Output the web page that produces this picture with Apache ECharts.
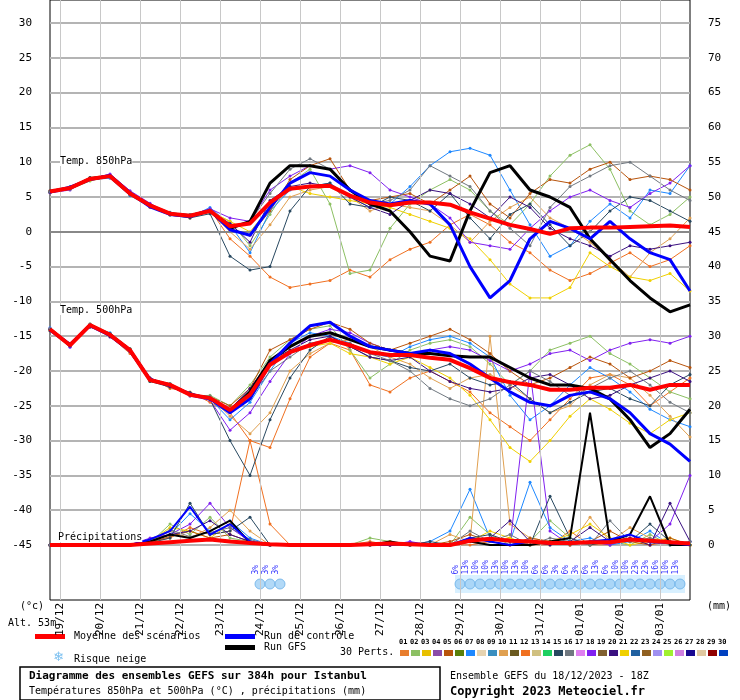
<!DOCTYPE html>
<html>
<head>
<meta charset="utf-8">
<script src="https://cdn.jsdelivr.net/npm/echarts@6/dist/echarts.min.js"></script>
<style>html,body{margin:0;padding:0;background:#fff}#chart{width:740px;height:700px}</style>
</head>
<body>
<div id="chart"></div>
<script>
// hours since 18/12 00Z, 12h steps
var hours = [18,30,42,54,66,78,90,102,114,126,138,150,162,174,186,198,210,222,234,246,258,270,282,294,306,318,330,342,354,366,378,390,402];
var dayHours = [24,48,72,96,120,144,168,192,216,240,264,288,312,336,360,384];
var dayLabels = ['19/12','20/12','21/12','22/12','23/12','24/12','25/12','26/12','27/12','28/12','29/12','30/12','31/12','01/01','02/01','03/01'];

var mean850 = [5.8,6.3,7.6,8.0,5.5,3.8,2.6,2.3,3.0,0.8,1.2, 4.2,6.2,6.5,6.6,5.2,4.2,3.8,4.2,4.2,3.9,2.8, 1.9,1.0,0.4,-0.3,0.5,0.6,0.6,0.7,0.8,0.9,0.7];
var ctrl850 = [5.7,6.4,7.5,8.1,5.6,3.6,2.5,2.2,3.1,0.3,-0.5, 3.5,7.0,8.5,8.0,6.0,4.5,4.0,4.5,4.0,1.0,-5.0, -9.5,-7.0,-1.0,1.5,0.5,-1.0,1.5,-1.0,-3.0,-4.0,-8.5];
var gfs850 = [5.8,6.3,7.6,8.0,5.5,3.8,2.6,2.3,3.0,0.5,1.5, 7.0,9.5,9.5,9.0,6.0,4.0,3.0,0.0,-3.5,-4.2,3.0, 8.5,9.5,6.0,5.0,3.5,-1.0,-4.0,-7.0,-9.5,-11.5,-10.5];

var mean500 = [-14,-16.3,-13.4,-14.8,-17,-21.3,-22,-23.4,-23.9,-25.6,-23.4, -19.1,-17.3,-16.3,-15.5,-16.3,-17.3,-17.7,-17.7,-18.1,-18.4,-19.6, -21,-21.6,-22,-22.7,-22.7,-22.4,-22.4,-22,-22.7,-22,-22];
var ctrl500 = [-14.1,-16.2,-13.5,-14.9,-17.1,-21.2,-22.1,-23.3,-24.0,-26.0,-24.0, -19.0,-16.0,-13.5,-13.0,-15.0,-16.5,-17.0,-17.5,-17.0,-17.5,-19.0, -21.0,-23.0,-24.5,-25.0,-23.5,-23.0,-24.0,-26.0,-29.0,-30.5,-33.0];
var gfs500 = [-14.0,-16.3,-13.4,-14.8,-17.0,-21.3,-22.0,-23.4,-23.9,-25.8,-23.0, -18.5,-16.5,-15.0,-14.5,-15.5,-16.5,-17.0,-17.5,-17.5,-17.8,-18.0, -18.0,-19.5,-21.0,-22.0,-22.0,-22.5,-24.0,-27.0,-31.0,-29.0,-25.5];

var meanPrcp = [0,0,0,0,0,0.2,0.4,0.6,0.8,0.5,0.3, 0.1,0,0,0,0,0.1,0.2,0.1,0,0,0.6, 0.9,0.6,0.5,0.3,0.3,0.4,0.4,0.8,0.6,0.4,0.2];
var ctrlPrcp = [0,0,0,0,0,0.8,2.0,5.5,1.5,3.0,0.5, 0,0,0,0,0,0,0,0.3,0,0,1.0, 0.5,0,0.5,0.3,0.2,0.5,0.8,1.5,0.4,0.3,0];
var gfsPrcp = [0,0,0,0,0,0.5,1.5,1.0,2.0,3.5,0.3, 0,0,0,0,0,0,0.5,0,0,0,0.5, 0,0,0,0.5,1.0,19.0,0.5,1.5,7.0,0,0];

// perturbations shown: number, 850hPa, 500hPa, precipitation
var pertIds = ['12','02','07','10','21','18','05','15','20','16'];
var pert850 = [
  [5.6,6.4,7.8,8.2,5.8,3.5,2.8,2.0,3.2,-1.0,-3.5, -6.5,-8.0,-7.5,-7.0,-5.5,-6.5,-4.0,-2.5,-1.5,1.0,2.5, 1.0,-1.5,-3.0,-5.5,-7.0,-6.0,-4.5,-3.0,-5.0,-4.0,-2.0],
  [5.9,6.1,7.3,8.0,5.6,4.0,2.4,2.5,2.8,1.5,-2.0, 2.5,7.0,9.0,4.0,-6.0,-5.5,0.5,4.0,6.0,7.5,6.0, 3.0,1.0,4.0,8.0,11.0,12.5,9.0,3.0,1.0,2.5,5.0],
  [5.7,6.5,7.5,7.7,5.2,3.6,2.8,2.1,3.5,1.0,-3.0, 3.0,6.0,6.5,7.0,5.0,3.5,4.0,6.5,9.5,11.5,12.0, 11.0,6.0,1.0,-3.5,-2.0,1.5,4.0,2.0,6.0,5.5,9.5],
  [5.8,6.2,7.7,8.1,5.4,3.9,2.5,2.4,2.9,0.0,-2.5, 1.0,5.0,6.0,6.5,5.0,3.0,4.0,3.5,3.0,1.0,-1.5, 1.5,3.5,5.0,2.0,0.5,-1.5,-4.0,-6.5,-3.0,-1.0,2.0],
  [5.9,6.3,7.4,7.9,5.6,3.7,2.7,2.2,3.0,1.5,0.0, 3.5,6.5,5.5,5.0,4.5,4.0,3.5,2.5,1.5,0.5,-1.0, -4.0,-7.5,-9.5,-9.5,-8.0,-3.0,-5.0,-6.5,-7.0,-6.0,-8.5],
  [5.6,6.0,7.6,8.3,5.9,4.1,2.5,2.4,3.3,2.0,1.5, 6.0,8.0,9.5,9.0,9.5,8.5,6.0,5.0,4.0,2.0,-1.5, -2.0,-2.5,0.5,3.0,5.0,6.0,4.5,3.5,5.5,7.0,9.5],
  [5.8,6.4,7.5,7.9,5.5,3.6,2.6,2.3,3.1,0.5,-0.5, 3.0,7.5,9.5,10.5,6.0,4.5,5.0,5.5,4.0,6.0,8.0, 4.0,2.0,5.5,7.5,7.0,9.0,10.0,7.5,8.0,7.5,6.0],
  [5.7,6.2,7.8,8.0,5.3,3.8,2.4,2.0,2.6,-3.5,-5.5, -5.0,3.0,6.5,7.0,4.0,3.5,5.0,4.5,3.0,5.5,2.0, -1.0,2.5,4.0,1.0,-2.0,0.0,3.0,5.0,4.5,3.0,1.5],
  [5.9,6.3,7.5,8.0,5.6,3.8,2.7,2.4,2.9,1.2,-1.5, 4.5,6.5,7.0,6.5,5.0,3.5,2.5,4.5,6.0,5.5,4.0, 2.0,5.0,3.5,0.5,-1.0,-2.0,-3.5,-2.0,-2.5,-2.0,-1.5],
  [5.8,6.1,7.6,8.1,5.4,3.7,2.6,2.5,3.0,0.3,1.5, 5.5,9.0,10.5,9.0,6.0,4.0,4.5,6.0,9.5,8.0,6.5, 3.0,0.5,-2.0,3.5,6.5,8.0,9.5,10.0,8.0,6.0,4.5]
];
var pert500 = [
  [-14.2,-16.0,-13.5,-15.0,-17.5,-21.0,-22.5,-23.0,-24.5,-26.0,-30.0, -31.0,-24.0,-18.0,-16.0,-17.0,-22.0,-23.0,-21.0,-20.0,-21.5,-23.0, -26.0,-28.0,-30.0,-27.0,-24.0,-21.0,-20.5,-22.0,-25.0,-23.0,-21.0],
  [-14.0,-16.5,-13.2,-14.6,-16.8,-21.5,-21.8,-23.6,-23.5,-25.0,-22.0, -18.0,-15.5,-14.0,-13.5,-17.0,-21.0,-19.0,-17.0,-16.0,-15.5,-16.5, -19.0,-22.0,-20.0,-17.0,-16.0,-15.0,-17.5,-19.0,-21.0,-23.0,-24.0],
  [-13.8,-16.4,-13.6,-14.5,-17.2,-21.0,-22.2,-23.2,-24.0,-27.0,-24.5, -20.0,-16.0,-14.5,-15.0,-16.0,-17.5,-18.0,-16.5,-15.5,-15.0,-16.0, -18.0,-23.5,-27.0,-25.0,-22.0,-19.5,-21.0,-23.0,-25.5,-27.0,-28.0],
  [-14.1,-16.2,-13.3,-15.0,-17.0,-21.4,-22.0,-23.5,-23.8,-26.5,-29.0, -26.0,-20.0,-17.5,-16.0,-15.5,-16.5,-18.0,-19.0,-21.0,-22.5,-21.0, -20.5,-22.0,-24.0,-26.0,-25.0,-22.0,-20.5,-21.0,-23.5,-26.5,-29.5],
  [-14.0,-16.1,-13.4,-14.8,-16.9,-21.2,-22.1,-23.3,-24.0,-25.5,-23.0, -19.0,-17.0,-16.5,-16.0,-17.5,-18.0,-19.0,-18.0,-19.5,-21.0,-23.5, -27.0,-31.0,-33.0,-30.0,-26.5,-24.0,-25.5,-27.5,-29.0,-27.0,-26.0],
  [-13.9,-16.6,-13.3,-14.7,-17.1,-21.1,-21.9,-23.6,-24.2,-28.5,-26.0, -21.5,-17.5,-15.0,-14.0,-14.5,-16.0,-17.0,-17.5,-17.0,-16.5,-17.0, -18.5,-20.0,-19.0,-17.5,-17.0,-18.5,-17.0,-16.0,-15.5,-16.0,-15.0],
  [-14.0,-16.3,-13.5,-14.9,-17.0,-21.3,-22.0,-23.4,-23.7,-25.0,-22.5, -17.0,-15.5,-14.0,-13.0,-14.0,-16.0,-17.0,-16.0,-15.0,-14.0,-15.5, -17.5,-20.0,-22.0,-21.0,-19.5,-18.0,-19.0,-21.0,-20.0,-18.5,-19.5],
  [-14.2,-16.2,-13.7,-14.6,-16.8,-21.5,-22.3,-23.1,-24.1,-30.0,-35.0, -27.0,-21.0,-17.0,-15.0,-16.5,-18.0,-18.5,-19.5,-20.0,-19.0,-21.0, -22.0,-21.5,-24.0,-26.0,-24.5,-23.0,-22.5,-24.0,-25.0,-22.0,-20.5],
  [-14.0,-16.4,-13.4,-15.1,-17.2,-21.0,-22.2,-23.3,-23.9,-25.5,-22.5, -18.5,-17.0,-15.5,-15.0,-16.5,-18.0,-18.5,-18.0,-20.0,-21.5,-22.5, -23.0,-22.5,-21.0,-20.5,-22.0,-24.0,-23.5,-22.0,-21.0,-20.0,-21.5],
  [-13.9,-16.3,-13.3,-14.7,-16.9,-21.4,-21.8,-23.5,-23.6,-26.0,-24.0, -20.0,-18.0,-16.0,-15.5,-16.0,-17.5,-18.5,-20.0,-22.5,-24.0,-25.0, -24.0,-22.0,-20.0,-21.5,-23.5,-22.5,-21.0,-20.0,-22.0,-24.5,-26.0]
];
var pertPrcp = [
  [0,0,0,0,0,0.5,1.0,2.5,1.5,2.0,15.0, 3.0,0,0,0,0,0.5,0,0,0,0,0, 0.5,1.0,0,0,2.0,0,0,1.0,0,0.5,0],
  [0,0,0,0,0,0.3,3.0,1.5,4.0,1.0,0.5, 0,0,0,0,0,1.0,0.5,0,0,0,4.0, 1.5,0,0.5,3.5,1.0,0,0.5,0,1.5,0,0],
  [0,0,0,0,0,0.8,1.5,4.5,2.0,3.5,1.0, 0,0,0,0,0,0,0.5,0,0.5,2.0,8.0, 1.0,0.5,9.0,2.5,0.5,1.0,0,0.5,2.0,0,0.5],
  [0,0,0,0,0,0.5,2.0,1.0,2.5,5.0,2.0, 0,0,0,0,0,0,0,0,0,1.5,0.5, 30.0,3.0,1.0,0.5,0,4.0,0.5,2.5,1.0,0.5,0],
  [0,0,0,0,0,0.5,2.5,2.0,1.0,3.0,0.5, 0,0,0,0,0,0,0.5,0,0,0,0.5, 2.0,1.0,0,0.5,1.5,3.0,1.0,0,0.5,1.0,0],
  [0,0,0,0,0,1.0,1.5,3.0,6.0,2.5,0.5, 0,0,0,0,0,0,0,0.5,0,0,1.0, 0.5,0,25.0,2.0,0,0.5,0,1.0,0.5,3.0,10.0],
  [0,0,0,0,0,0.4,1.2,2.0,1.0,1.5,0.5, 0,0,0,0,0,0,0,0,0,0.5,1.5, 0.5,0,1.0,0.5,0,0.5,2.0,0.5,0,1.0,0],
  [0,0,0,0,0,0.3,1.0,6.0,1.5,2.0,4.0, 0,0,0,0,0,0,0,0,0.5,0,1.0, 1.5,0.5,0,7.0,1.0,0,0.5,0.5,3.0,0.5,0],
  [0,0,0,0,0,0.5,1.5,2.0,3.5,1.5,0.5, 0,0,0,0,0,0.3,0,0,0,0,0.5, 1.0,3.5,0.5,0,0.5,2.5,0.5,1.0,0,6.0,0.5],
  [0,0,0,0,0,0.6,2.2,1.2,1.8,2.5,0.8, 0,0,0,0,0,0,0.3,0,0,0,2.0, 0.5,1.5,0,1.0,0.5,0,3.5,0.5,1.0,0,0.5]
];

// snow risk (hour, %)
var snowHours = [144,150,156, 264,270,276,282,288,294,300,306,312,318,324,330,336,342,348,354,360,366,372,378,384,390,396];
var snowPct = [3,3,3, 6,13,10,10,13,10,13,10,6,6,3,6,3,6,13,6,10,10,23,23,16,10,13];

var pertNums = ['01','02','03','04','05','06','07','08','09','10','11','12','13','14','15','16','17','18','19','20','21','22','23','24','25','26','27','28','29','30'];
var pertColors = ['#e87d2d','#8cc063','#e8c000','#8b4ca8','#b8540c','#5a7f0a','#1e88ff','#e6d3b0','#3a8fc0','#e0a050','#6b5a20','#f07020','#d0c080','#1ed060','#284860','#707880','#e080f0','#8020f0','#806030','#3a1080','#f0d000','#2060a0','#906020','#a090f0','#a0f030','#d080e0','#180890','#e0c8a0','#900000','#0040c0'];

var FONT = 'DejaVu Sans Mono';
var chart = echarts.init(document.getElementById('chart'));

function pair(arr) { return arr.map(function (v, i) { return [hours[i], v]; }); }
function colorOf(id) { return pertColors[parseInt(id, 10) - 1]; }

var series = [];
// frame grid: vertical day lines
series.push({
  type: 'line', xAxisIndex: 1, yAxisIndex: 2, data: [], silent: true,
  markLine: {
    symbol: 'none', silent: true, label: { show: false },
    lineStyle: { color: '#c8c8c8', type: 'solid', width: 1 },
    data: dayHours.map(function (h) { return { xAxis: h }; })
  }
});
// snow risk
series.push({
  type: 'scatter', xAxisIndex: 1, yAxisIndex: 2, symbol: 'circle', symbolSize: 10,
  itemStyle: { color: '#9fd0f5', borderColor: '#6ab0e8', borderWidth: 1 },
  data: snowHours.map(function (h, i) { return [h, 16, snowPct[i]]; }),
  label: {
    show: true, position: 'top', rotate: 90, distance: 4, align: 'left',
    fontFamily: FONT, fontSize: 8, color: '#0000ff',
    formatter: function (p) { return p.value[2] + '%'; }
  },
  markArea: {
    silent: true, itemStyle: { color: '#d8f0ff' },
    data: [[{ xAxis: 261, yAxis: 7 }, { xAxis: 399, yAxis: 25 }]]
  },
  z: 3
});

pertIds.forEach(function (id, k) {
  var c = colorOf(id);
  [pert850[k], pert500[k]].forEach(function (arr) {
    series.push({ type: 'line', data: pair(arr), symbol: 'circle', symbolSize: 3,
      lineStyle: { width: 1, color: c }, itemStyle: { color: c }, z: 4, silent: true });
  });
  series.push({ type: 'line', yAxisIndex: 1, data: pair(pertPrcp[k]), symbol: 'circle', symbolSize: 3,
    lineStyle: { width: 1, color: c }, itemStyle: { color: c }, z: 4, silent: true });
});

function main(arr, color, w, axis, z) {
  return { type: 'line', yAxisIndex: axis, data: pair(arr), showSymbol: false,
    lineStyle: { width: w, color: color }, itemStyle: { color: color }, z: z, silent: true };
}
series.push(main(gfs850, '#000', 3, 0, 6), main(gfs500, '#000', 3, 0, 6), main(gfsPrcp, '#000', 2, 1, 6));
series.push(main(ctrl850, '#0000ff', 3, 0, 7), main(ctrl500, '#0000ff', 3, 0, 7), main(ctrlPrcp, '#0000ff', 2, 1, 7));
var m850 = main(mean850, '#ff0000', 4, 0, 8);
m850.markLine = { symbol: 'none', silent: true, label: { show: false },
  lineStyle: { color: '#888', width: 2, type: 'solid' }, data: [{ yAxis: 0 }] };
series.push(m850, main(mean500, '#ff0000', 4, 0, 8), main(meanPrcp, '#ff0000', 4, 1, 8));

var graphics = [
  { type: 'text', left: 60, top: 156, style: { text: 'Temp. 850hPa', font: '10px ' + FONT, fill: '#000', backgroundColor: '#fff' }, z: 20 },
  { type: 'text', left: 60, top: 305, style: { text: 'Temp. 500hPa', font: '10px ' + FONT, fill: '#000', backgroundColor: '#fff' }, z: 20 },
  { type: 'text', left: 58, top: 532, style: { text: 'Précipitations', font: '10px ' + FONT, fill: '#000', backgroundColor: '#fff' }, z: 20 },
  { type: 'text', left: 20, top: 601, style: { text: '(°c)', font: '10px ' + FONT, fill: '#000' } },
  { type: 'text', left: 707, top: 601, style: { text: '(mm)', font: '10px ' + FONT, fill: '#000' } },
  { type: 'text', left: 8, top: 618, style: { text: 'Alt. 53m', font: '10px ' + FONT, fill: '#000' } },
  { type: 'rect', shape: { x: 35, y: 634, width: 30, height: 5 }, style: { fill: '#ff0000' } },
  { type: 'text', left: 74, top: 631, style: { text: 'Moyenne des scénarios', font: '10px ' + FONT, fill: '#000' } },
  { type: 'rect', shape: { x: 225, y: 634, width: 30, height: 5 }, style: { fill: '#0000ff' } },
  { type: 'text', left: 264, top: 631, style: { text: 'Run de contrôle', font: '10px ' + FONT, fill: '#000' } },
  { type: 'rect', shape: { x: 225, y: 645, width: 30, height: 5 }, style: { fill: '#000' } },
  { type: 'text', left: 264, top: 642, style: { text: 'Run GFS', font: '10px ' + FONT, fill: '#000' } },
  { type: 'text', left: 53, top: 651, style: { text: '❄', font: '13px DejaVu Sans', fill: '#7cc0f0' } },
  { type: 'text', left: 74, top: 654, style: { text: 'Risque neige', font: '10px ' + FONT, fill: '#000' } },
  { type: 'text', left: 340, top: 647, style: { text: '30 Perts.', font: '10px ' + FONT, fill: '#000' } },
  { type: 'rect', shape: { x: 20, y: 667, width: 420, height: 33 }, style: { fill: '#fff', stroke: '#000', lineWidth: 1.5 } },
  { type: 'text', left: 29, top: 671, style: { text: 'Diagramme des ensembles GEFS sur 384h pour Istanbul', font: 'bold 11px ' + FONT, fill: '#000' } },
  { type: 'text', left: 29, top: 686, style: { text: 'Températures 850hPa et 500hPa (°C) , précipitations (mm)', font: '10px ' + FONT, fill: '#000' } },
  { type: 'text', left: 450, top: 671, style: { text: 'Ensemble GEFS du 18/12/2023 - 18Z', font: '10px ' + FONT, fill: '#000' } },
  { type: 'text', left: 450, top: 686, style: { text: 'Copyright 2023 Meteociel.fr', font: 'bold 12px ' + FONT, fill: '#000' } }
];
pertNums.forEach(function (n, i) {
  graphics.push({ type: 'text', left: 399 + i * 11, top: 639, style: { text: n, font: 'bold 7px ' + FONT, fill: '#000' } });
  graphics.push({ type: 'rect', shape: { x: 400 + i * 11, y: 650, width: 9, height: 6 }, style: { fill: pertColors[i] } });
});

var labelStyle = { fontFamily: FONT, fontSize: 11, color: '#000' };
var option = {
  backgroundColor: '#fff',
  animation: false,
  grid: [
    { left: 50, width: 640, top: 23, height: 522 },
    { left: 50, width: 640, top: 0, height: 600, show: true, borderColor: '#000', borderWidth: 1, backgroundColor: 'transparent' }
  ],
  xAxis: [
    { type: 'value', gridIndex: 0, min: 18, max: 402, axisLine: { show: false }, axisTick: { show: false }, axisLabel: { show: false }, splitLine: { show: false } },
    { type: 'value', gridIndex: 1, min: 18, max: 402, axisLine: { show: false }, axisTick: { show: false }, splitLine: { show: false },
      axisLabel: Object.assign({ customValues: dayHours, rotate: 90, margin: 3,
        formatter: function (v) { var i = dayHours.indexOf(v); return i >= 0 ? dayLabels[i] : ''; } }, labelStyle) }
  ],
  yAxis: [
    { type: 'value', gridIndex: 0, min: -45, max: 30, interval: 5, position: 'left',
      axisLine: { show: false }, axisTick: { show: false }, axisLabel: Object.assign({ margin: 18 }, labelStyle),
      splitLine: { lineStyle: { color: '#b4b4b4', width: 2 } } },
    { type: 'value', gridIndex: 0, min: 0, max: 75, interval: 5, position: 'right',
      axisLine: { show: false }, axisTick: { show: false }, axisLabel: Object.assign({ margin: 18 }, labelStyle),
      splitLine: { show: false } },
    { type: 'value', gridIndex: 1, min: 0, max: 600, show: false }
  ],
  graphic: graphics,
  series: series
};
chart.setOption(option);
</script>
</body>
</html>
